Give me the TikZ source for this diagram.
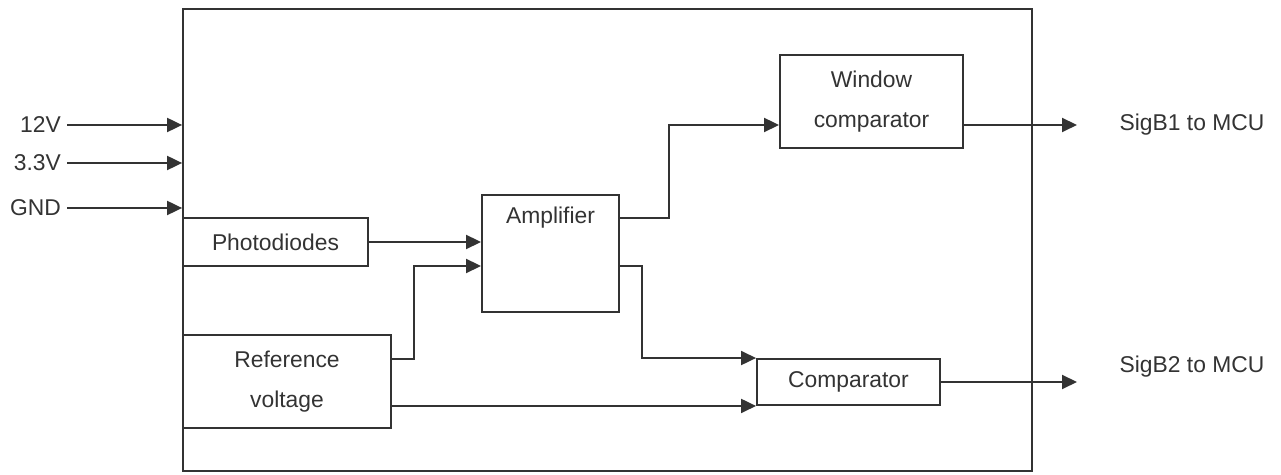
\documentclass[tikz,border=0pt]{standalone}
\usepackage{fontspec}
\setmainfont{Liberation Sans}
\usetikzlibrary{arrows.meta,calc}
\definecolor{ink}{HTML}{333333}
\begin{document}
\begin{tikzpicture}
  [x=0.02cm,y=-0.02cm,
   every node/.style={text=ink,font=\fontsize{13}{23.2}\selectfont},
   box/.style={draw=ink,line width=1.1pt,inner sep=0pt,align=center},
   arr/.style={draw=ink,line width=1.1pt,-{Triangle[length=0.3cm,width=0.28cm]}},
   wire/.style={draw=ink,line width=1.1pt}]
\useasboundingbox (0,0) rectangle (1281,475);
  % Caja exterior
  \node[box,minimum width=16.98cm,minimum height=9.24cm] (board) at (607.5,240) {};

  % Bloques internos
  \node[box,minimum width=3.7cm,minimum height=0.96cm] (photo) at (275.5,242) {Photodiodes};
  \node[box,minimum width=4.16cm,minimum height=1.86cm] (ref) at (287,381.5) {Reference\\voltage};
  \node[box,minimum width=2.74cm,minimum height=2.34cm,
        label={[anchor=center,yshift=-0.48cm]north:Amplifier}] (amp) at (550.5,253.5) {};
  \node[box,minimum width=3.66cm,minimum height=1.86cm] (win) at (871.5,101.5) {Window\\comparator};
  \node[box,minimum width=3.66cm,minimum height=0.92cm] (cmp) at (848.5,382) {Comparator};

  % Entradas
  \node[anchor=east] (v12) at (67,125) {12V};
  \node[anchor=east] (v33) at (67,163) {3.3V};
  \node[anchor=east] (gnd) at (67,208) {GND};
  \foreach \from in {v12, v33, gnd}
    \draw[arr] (\from) -- (\from -| board.west);

  % Salidas
  \coordinate (o1) at (1077,125);
  \coordinate (o2) at (1077,383);
  \node (sig1) at (1192,125) {SigB1 to MCU};
  \node (sig2) at (1192,367) {SigB2 to MCU};
  \draw[arr] ([yshift=-0.47cm]win.east) -- (o1);
  \draw[arr] (cmp.east) -- (cmp.east -| o2);

  % Conexiones internas
  \draw[arr] (photo.east) -- (photo.east -| amp.west);
  \draw[arr] ([yshift=0.45cm]ref.east) -- ++(22,0) |- ([yshift=-0.25cm]amp.west);
  \draw[arr] (ref.east |- cmp.south west) -- (cmp.south west);
  \draw[arr] ([yshift=0.71cm]amp.east) -- ++(49,0) |- ([yshift=-0.47cm]win.west);
  \draw[arr] ([yshift=-0.25cm]amp.east) -- ++(22,0) |- (cmp.north west);
\end{tikzpicture}
\end{document}
